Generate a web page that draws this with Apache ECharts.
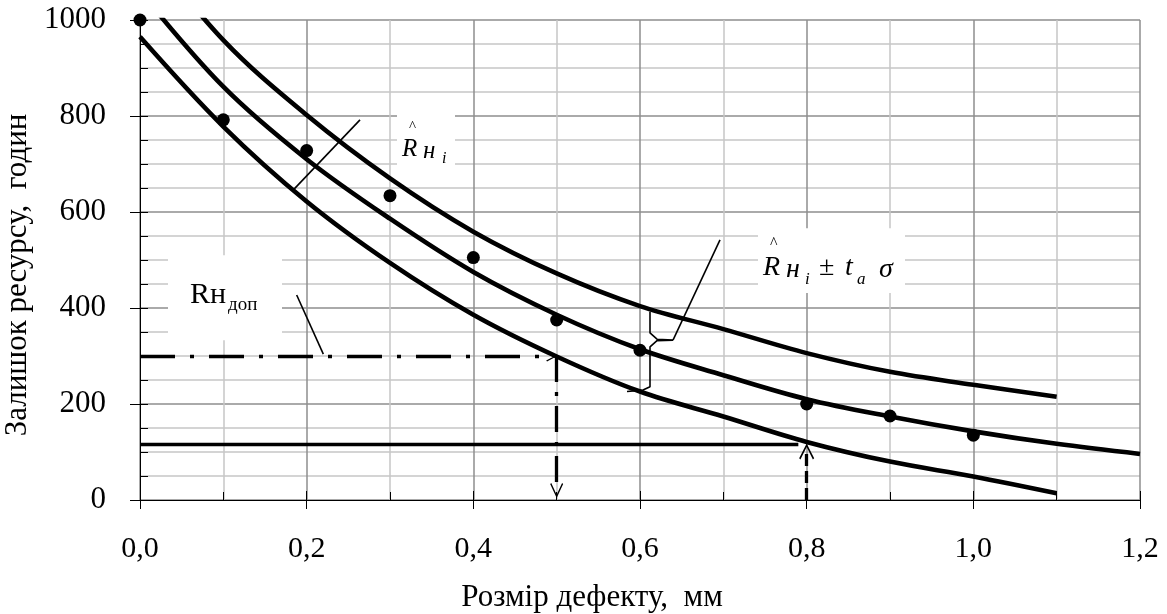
<!DOCTYPE html>
<html><head><meta charset="utf-8">
<script src="https://cdn.jsdelivr.net/npm/echarts@6/dist/echarts.min.js"></script>
<style>html,body{margin:0;padding:0;background:#fff}#c{width:1167px;height:614px}</style>
</head><body><div id="c"></div>
<script>
// ---- data ----
const defectSize = [0, 0.1, 0.2, 0.3, 0.4, 0.5, 0.6, 0.7, 0.8, 0.9, 1.0, 1.1, 1.2];
const fittedResource = [1060, 861, 710, 586, 475, 386, 314, 260, 210, 174, 143, 117, 96];
const upperBound = [1168, 958, 802, 670, 559, 472, 404, 356, 306, 267, 240, 215];
const lowerBound = [965, 778, 622, 494, 386, 299, 226, 174, 121, 80, 49, 14];
const observedSize = [0, 0.1, 0.2, 0.3, 0.4, 0.5, 0.6, 0.8, 0.9, 1.0];
const observedResource = [1000, 792, 728, 634, 505, 375, 312, 200, 175, 135];
const xTickLabels = ['0,0', '0,2', '0,4', '0,6', '0,8', '1,0', '1,2'];
const yTickLabels = ['0', '200', '400', '600', '800', '1000'];
const allowedResource = 300, allowedSize = 0.5;
const residualResource = 116, residualSize = 0.8;
// annotation geometry (data units)
const braceX = [0.612, 0.612, 0.6204, 0.6396, 0.6204, 0.612, 0.612, 0.6036, 0.5844];
const braceY = [392, 348, 335, 333, 332, 319, 236, 229, 226];
const leaderFit = [[0.184, 646], [0.264, 792]];
const leaderBand = [[0.6396, 333], [0.696, 542]];
const leaderAllowed = [[0.188, 427], [0.22, 304]];
const boxFit = [[0.3084, 802], [0.378, 694]];
const boxBand = [[0.7416, 566], [0.918, 431]];
const boxAllowed = [[0.0336, 510], [0.1704, 333]];
const anchorFit = [0.3144, 712.5];
const anchorBand = [0.7476, 462.5];
const anchorAllowed = [0.06, 406];

const FONT = '"Liberation Serif","Times New Roman",serif';
const zip = (xs, ys) => ys.map((y, i) => [xs[i], y]);
const chevron = 'path://M10,0 L20,18 L18.3,19.6 L10,4.2 L1.7,19.6 L0,18 Z';

const curveStyle = { color: '#000', width: 4.6 };
const thin = { color: '#000', width: 1.6 };

const option = {
  animation: false,
  backgroundColor: '#fff',
  grid: { left: 140, right: 27, top: 20, bottom: 114, containLabel: false, outerBoundsMode: 'none' },
  xAxis: [{
    type: 'value', min: 0, max: 1.2, interval: 0.2,
    axisLine: { lineStyle: { color: '#000', width: 1 } },
    axisTick: { show: true, inside: false, length: 9, lineStyle: { color: '#000' } },
    minorTick: { show: false, splitNumber: 2 },
    axisLabel: { color: '#000', fontSize: 30, fontFamily: FONT, margin: 34,
      formatter: v => xTickLabels[Math.round(v / 0.2)] },
    splitLine: { show: true, lineStyle: { color: '#8e8e8e', width: 1.5 } },
    minorSplitLine: { show: true, lineStyle: { color: '#c6c6c6', width: 1.5 } },
    name: 'Розмір дефекту,  мм', nameLocation: 'middle', nameGap: 82,
    nameTextStyle: { color: '#000', fontSize: 31, fontFamily: FONT, padding: [0, 96, 0, 0] }
  }, {
    type: 'value', min: 0, max: 1.2, interval: 0.2, position: 'bottom',
    axisLine: { show: false },
    axisTick: { show: true, inside: true, length: 9, lineStyle: { color: '#000' } },
    minorTick: { show: true, splitNumber: 2, length: 8, lineStyle: { color: '#000' } },
    axisLabel: { show: false }, splitLine: { show: false }
  }],
  yAxis: [{
    type: 'value', min: 0, max: 1000, interval: 200,
    axisLine: { show: true, lineStyle: { color: '#000', width: 1 } },
    axisTick: { show: true, inside: false, length: 10, lineStyle: { color: '#000' } },
    minorTick: { show: false, splitNumber: 4 },
    axisLabel: { color: '#000', fontSize: 31, fontFamily: FONT, margin: 34,
      formatter: v => yTickLabels[Math.round(v / 200)] },
    splitLine: { show: true, lineStyle: { color: '#8e8e8e', width: 1.5 } },
    minorSplitLine: { show: true, lineStyle: { color: '#c6c6c6', width: 1.5 } },
    name: 'Залишок ресурсу,  годин', nameLocation: 'middle', nameGap: 98,
    nameTextStyle: { color: '#000', fontSize: 31, fontFamily: FONT, padding: [0, 30, 0, 0] }
  }, {
    type: 'value', min: 0, max: 1000, interval: 200, position: 'left',
    axisLine: { show: false },
    axisTick: { show: true, inside: true, length: 8, lineStyle: { color: '#000' } },
    minorTick: { show: true, splitNumber: 4, length: 8, lineStyle: { color: '#000' } },
    axisLabel: { show: false }, splitLine: { show: false }
  }],
  series: [
    { name: 'upper', type: 'line', data: zip(defectSize, upperBound), symbol: 'none',
      smooth: 0.35, lineStyle: curveStyle, clip: true, z: 3 },
    { name: 'fitted', type: 'line', data: zip(defectSize, fittedResource), symbol: 'none',
      smooth: 0.35, lineStyle: curveStyle, clip: true, z: 3 },
    { name: 'lower', type: 'line', data: zip(defectSize, lowerBound), symbol: 'none',
      smooth: 0.35, lineStyle: curveStyle, clip: true, z: 3,
      markLine: {
        silent: true, animation: false, label: { show: false },
        symbol: ['none', 'none'],
        itemStyle: { color: '#000' },
        lineStyle: { color: '#000' },
        data: [
          [{ coord: [0, allowedResource], symbol: 'none',
             lineStyle: { color: '#000', width: 3.3, type: [35, 15, 4, 15], cap: 'butt' } },
           { coord: [allowedSize - 0.006, allowedResource], symbol: chevron, symbolSize: [11, 11] }],
          [{ coord: [allowedSize, allowedResource], symbol: 'none',
             lineStyle: { color: '#000', width: 3.3, type: [26, 10, 4, 10], cap: 'butt' } },
           { coord: [allowedSize, 20], symbol: chevron, symbolSize: [13, 15] }],
          [{ coord: [0, residualResource], symbol: 'none',
             lineStyle: { color: '#000', width: 3.3, type: 'solid' } },
           { coord: [residualSize - 0.01, residualResource], symbol: 'none' }],
          [{ coord: [residualSize, 0], symbol: 'none',
             lineStyle: { color: '#000', width: 3.3, type: [12, 5], cap: 'butt' } },
           { coord: [residualSize, residualResource - 15], symbol: chevron, symbolSize: [15, 16] }]
        ]
      }
    },
    { name: 'observed', type: 'scatter', data: zip(observedSize, observedResource),
      symbol: 'circle', symbolSize: 13, itemStyle: { color: '#000', opacity: 1 }, clip: false, z: 4 },
    { name: 'brace', type: 'line', data: zip(braceX, braceY), symbol: 'none',
      lineStyle: thin, z: 5 },
    { name: 'leaderFit', type: 'line', data: leaderFit, symbol: 'none', lineStyle: thin, z: 5 },
    { name: 'leaderBand', type: 'line', data: leaderBand, symbol: 'none', lineStyle: thin, z: 5 },
    { name: 'leaderAllowed', type: 'line', data: leaderAllowed, symbol: 'none', lineStyle: thin, z: 5 }
  ]
};

const chart = echarts.init(document.getElementById('c'), null, { renderer: 'canvas' });
chart.setOption(option);

const px = p => chart.convertToPixel({ gridIndex: 0 }, p);
function box(b) {
  const a = px(b[0]), c = px(b[1]);
  return { type: 'rect', z: 10, silent: true,
    shape: { x: Math.min(a[0], c[0]), y: Math.min(a[1], c[1]), width: Math.abs(c[0] - a[0]), height: Math.abs(c[1] - a[1]) },
    style: { fill: '#fff' } };
}
function pieces(anchor, list) {
  const a = px(anchor);
  return list.map(p => ({
    type: 'text', z: 11, silent: true, x: a[0] + p[1], y: a[1] + p[2],
    style: { text: p[0], fill: '#000', font: `${p[4] ? 'italic ' : ''}${p[3]}px ${FONT}`,
      textAlign: 'left', textVerticalAlign: 'middle', align: 'left', verticalAlign: 'middle' }
  }));
}
const graphics = [
  box(boxFit), box(boxBand), box(boxAllowed),
  ...pieces(anchorFit, [
    ['R', 0, -9, 25, true], ['^', 7, -31, 15, false], ['н', 21, -7, 25, true], ['i', 40, 1, 16, true]
  ]),
  ...pieces(anchorBand, [
    ['R', 0, -10, 28, true], ['^', 7, -34, 16, false], ['н', 23, -8, 28, true], ['i', 42, 2, 17, true],
    ['±', 56, -10, 28, false], ['t', 82, -10, 28, true], ['a', 94, 2, 17, true], ['σ', 116, -8, 28, true]
  ]),
  ...pieces(anchorAllowed, [
    ['Rн', 0, -10, 30, false], ['доп', 38, 0, 19, false]
  ])
];
chart.setOption({ graphic: graphics });
</script></body></html>
